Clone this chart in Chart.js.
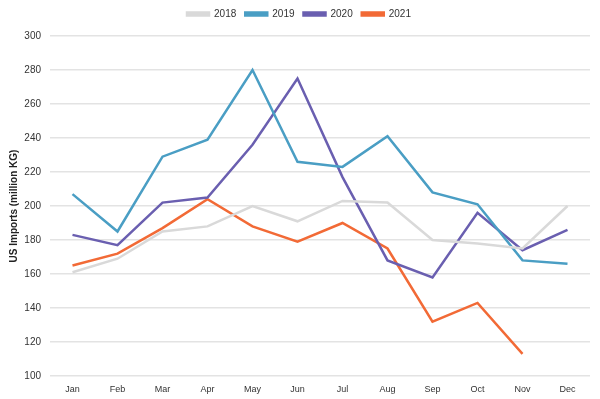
<!DOCTYPE html>
<html>
<head>
<meta charset="utf-8">
<script src="https://cdn.jsdelivr.net/npm/chart.js"></script>
<style>
	html, body { margin: 0; padding: 0; background: #fff; }
	#wrap { width: 600px; height: 399px; position: relative; }
</style>
</head>
<body>
<div id="wrap"><canvas id="importsChart"></canvas></div>
<script>
// months and yearly US imports (million KG)
const months = ['Jan', 'Feb', 'Mar', 'Apr', 'May', 'Jun', 'Jul', 'Aug', 'Sep', 'Oct', 'Nov', 'Dec'];
const imports2018 = [161, 169, 185, 188, 200, 191, 203, 202, 180, 178, 175, 200];
const imports2019 = [207, 185, 229, 239, 280, 226, 223, 241, 208, 201, 168, 166];
const imports2020 = [183, 177, 202, 205, 236, 275, 217, 168, 158, 196, 174, 186];
const imports2021 = [165, 172, 187, 204, 188, 179, 190, 175, 132, 143, 113, null];
const yTicks = [100, 120, 140, 160, 180, 200, 220, 240, 260, 280, 300];

const font = 'Liberation Sans, Arial, sans-serif';

function line(label, data, color) {
	return {
		label: label,
		data: data,
		borderColor: color,
		backgroundColor: color,
		borderWidth: 2.5,
		pointRadius: 0,
		tension: 0,
		spanGaps: false
	};
}

// push the plot a bit further below the legend
const legendGap = {
	id: 'legendGap',
	beforeInit(chart) {
		const fit = chart.legend.fit;
		chart.legend.fit = function () {
			fit.bind(chart.legend)();
			this.height += 7;
		};
	}
};

new Chart(document.getElementById('importsChart'), {
	type: 'line',
	data: {
		labels: months,
		datasets: [
			line('2018', imports2018, '#d9d9d9'),
			line('2019', imports2019, '#4a9ec4'),
			line('2020', imports2020, '#6a5fb0'),
			line('2021', imports2021, '#f26a36')
		]
	},
	plugins: [legendGap],
	options: {
		responsive: true,
		maintainAspectRatio: false,
		animation: false,
		layout: { padding: { left: 8, right: 10, top: 0, bottom: 0 } },
		plugins: {
			legend: {
				position: 'top',
				labels: {
					color: '#333',
					font: { family: font, size: 10 },
					boxWidth: 22,
					boxHeight: 3,
					padding: 9
				}
			},
			tooltip: { enabled: false }
		},
		scales: {
			x: {
				offset: true,
				grid: { display: false },
				border: { display: false },
				ticks: { color: '#333', font: { family: font, size: 9 }, padding: 0 },
				afterFit: (s) => { s.height = 23; }
			},
			y: {
				min: 100,
				max: 300,
				afterBuildTicks: (s) => { s.ticks = yTicks.map(v => ({ value: v })); },
				grid: { color: '#e3e3e3', lineWidth: 1.5, drawTicks: false },
				border: { display: false },
				ticks: { color: '#333', font: { family: font, size: 10 }, padding: 9 },
				title: {
					display: true,
					text: 'US Imports (million KG)',
					color: '#222',
					font: { family: font, size: 10, weight: 'bold' },
					padding: 0
				},
				afterFit: (s) => { s.width = 42; }
			}
		}
	}
});
</script>
</body>
</html>
